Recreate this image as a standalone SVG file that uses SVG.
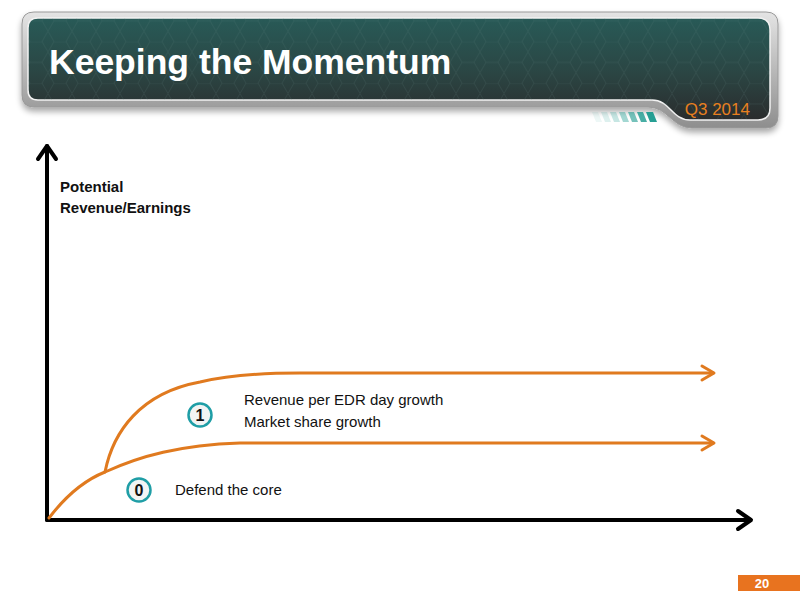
<svg xmlns="http://www.w3.org/2000/svg" width="800" height="600" viewBox="0 0 800 600">
<defs>
<linearGradient id="panel" x1="0" y1="0" x2="0" y2="1">
<stop offset="0" stop-color="#285a57"/>
<stop offset="0.55" stop-color="#2b4543"/>
<stop offset="1" stop-color="#2a2c2d"/>
</linearGradient>
<linearGradient id="frame" x1="0" y1="0" x2="0" y2="1">
<stop offset="0" stop-color="#e4e4e4"/>
<stop offset="0.5" stop-color="#b9b9b9"/>
<stop offset="1" stop-color="#8e8e8e"/>
</linearGradient>
<pattern id="hex" width="24" height="41.57" patternUnits="userSpaceOnUse">
<path d="M0 10.39 L6 0 H18 L24 10.39 L18 20.78 H6 Z M18 20.78 L24 31.18 L18 41.57 M6 20.78 L0 31.18 L6 41.57" fill="none" stroke="#6a8a88" stroke-width="0.7"/>
</pattern>
<filter id="shadow" x="-5%" y="-20%" width="110%" height="150%">
<feGaussianBlur in="SourceAlpha" stdDeviation="3"/>
<feOffset dx="0" dy="4"/>
<feComponentTransfer><feFuncA type="linear" slope="0.35"/></feComponentTransfer>
<feMerge><feMergeNode/><feMergeNode in="SourceGraphic"/></feMerge>
</filter>
<clipPath id="innerClip">
<path d="M38 18 H758 Q770 18 770 30 V108 Q770 120 758 120 H690 C672 120 670 100 652 100 H38 Q28 100 28 90 V28 Q28 18 38 18 Z"/>
</clipPath>
</defs>
<style>
.orange{fill:none;stroke:#e07a1f;stroke-width:3;stroke-linecap:round;stroke-linejoin:round}
.axis{fill:none;stroke:#000;stroke-width:4;stroke-linecap:round;stroke-linejoin:round}
.lbl{font-family:"Liberation Sans",Arial,sans-serif;font-size:15px;fill:#111}
.bold{font-weight:bold}
.badge{fill:#f2f4f4;stroke:#1f9ea6;stroke-width:2.5}
.num{font-family:"Liberation Sans",Arial,sans-serif;font-size:16px;font-weight:bold;fill:#111;text-anchor:middle}
</style>
<rect width="800" height="600" fill="#fff"/>
<g id="header">
<path d="M34 12 H766 Q778 12 778 24 V116 Q778 128 766 128 H692 C672 128 668 107 648 107 H34 Q22 107 22 95 V24 Q22 12 34 12 Z" fill="url(#frame)" stroke="#9a9a9a" stroke-width="1" filter="url(#shadow)"/>
<path d="M38 18 H758 Q770 18 770 30 V108 Q770 120 758 120 H690 C672 120 670 100 652 100 H38 Q28 100 28 90 V28 Q28 18 38 18 Z" fill="url(#panel)" stroke="#f2f2f2" stroke-width="1.5"/>
<rect x="28" y="18" width="742" height="102" fill="url(#hex)" opacity="0.22" clip-path="url(#innerClip)"/>
<g id="stripes">
<polygon points="596,122 602,122 598,112 592,112" fill="#1a9a8e" opacity="0.08"/>
<polygon points="605,122 611,122 607,112 601,112" fill="#1a9a8e" opacity="0.15"/>
<polygon points="614,122 620,122 616,112 610,112" fill="#1a9a8e" opacity="0.25"/>
<polygon points="623,122 629,122 625,112 619,112" fill="#1a9a8e" opacity="0.4"/>
<polygon points="632,122 638,122 634,112 628,112" fill="#1a9a8e" opacity="0.6"/>
<polygon points="641,122 647,122 643,112 637,112" fill="#1a9a8e" opacity="0.8"/>
<polygon points="650,122 657,122 653,112 646,112" fill="#1a9a8e" opacity="0.95"/>
</g>
<text x="49" y="74" font-family="'Liberation Sans',Arial,sans-serif" font-size="35.5" font-weight="bold" fill="#fff">Keeping the Momentum</text>
<text x="750" y="115" font-family="'Liberation Sans',Arial,sans-serif" font-size="17" fill="#e8801f" text-anchor="end">Q3 2014</text>
</g>
<g id="connectors">
<path class="axis" d="M47 520 V146"/>
<path class="axis" d="M38 159 L47 146 L56 159"/>
<path class="axis" d="M47 520 H750"/>
<path class="axis" d="M738 511 L751 520 L738 529"/>
<path class="orange" d="M49 518 C65 497 85 480 105 472 C140 456 180 445 240 443 H713"/>
<path class="orange" d="M702 436 L714 443 L702 450"/>
<path class="orange" d="M105 472 C113 432 140 393 200 382 C230 375 260 373 300 373 H713"/>
<path class="orange" d="M702 366 L714 373 L702 380"/>
</g>
<g id="yaxis-label">
<text class="lbl bold" x="60" y="192">Potential</text>
<text class="lbl bold" x="60" y="213">Revenue/Earnings</text>
</g>
<g id="node-1">
<circle class="badge" cx="200" cy="415" r="11.5"/>
<text class="num" x="200" y="420.5">1</text>
<text class="lbl" x="244" y="405">Revenue per EDR day growth</text>
<text class="lbl" x="244" y="427">Market share growth</text>
</g>
<g id="node-0">
<circle class="badge" cx="139" cy="490" r="11.5"/>
<text class="num" x="139" y="495.5">0</text>
<text class="lbl" x="175" y="495">Defend the core</text>
</g>
<g id="page-number">
<rect x="738" y="575" width="62" height="16" fill="#e8731f"/>
<text x="762" y="588" font-family="'Liberation Sans',Arial,sans-serif" font-size="13" font-weight="bold" fill="#fff" text-anchor="middle">20</text>
</g>
</svg>
